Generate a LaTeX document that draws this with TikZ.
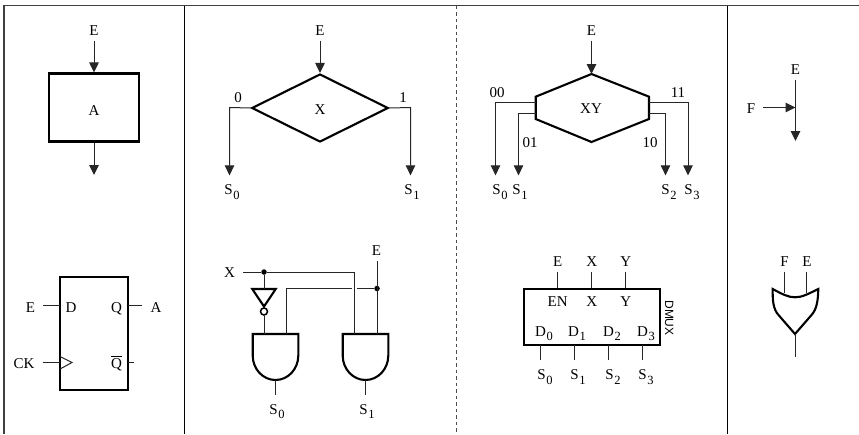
\documentclass[tikz,border=0pt]{standalone}
\usepackage{fontspec}
\setmainfont{Liberation Serif}
\newfontfamily\dmuxfont{Liberation Sans}
\usetikzlibrary{arrows.meta,calc,shapes.geometric}
\newcommand{\lsub}[1]{\kern.5pt\raisebox{-4.5pt}{\fontsize{12.5}{12.5}\selectfont #1}}
\tikzset{>={Triangle[length=10pt,width=9.5pt]},
  every node/.style={font=\fontsize{15}{15}\selectfont},
  frameline/.style={draw=black!75,line width=1.2pt},
  wire/.style={draw=black!85,line width=1pt},
  flow/.style={->,draw=black!85,line width=1pt},
  heavy/.style={draw=black,line width=2.1pt,line join=miter},
  block/.style={heavy,rectangle,inner sep=0pt},
  lab/.style={anchor=base,inner xsep=8pt,inner ysep=5.5pt},
  outlab/.style={anchor=base,inner xsep=2pt,inner ysep=9pt},
  txt/.style={anchor=base,inner sep=0pt},
  marker/.style={circle,fill=black,inner sep=0pt,minimum size=5.5pt},
  bubble/.style={circle,draw=black,line width=1.5pt,inner sep=0pt,minimum size=7pt}}
\begin{document}
\begin{tikzpicture}[x=1pt,y=-1pt]
\useasboundingbox(0,0)rectangle(859,434);
\draw[frameline](859,5.5)--(4,5.5)--(4,434);
\draw[draw=black,line width=1pt](184.5,5.5)--(184.5,434);\draw[draw=black,line width=1pt](727.5,5.5)--(727.5,434);
\draw[draw=black!70,line width=1pt,dash pattern=on 3.5pt off 3pt](456.5,5.5)--(456.5,434);
% sequence
\node[block,minimum width=90pt,minimum height=68pt](boxA)at(94,107.5){};
\node[txt](txtA)at(94,115){A};
\node[lab](eA)at(94,35){E};
\coordinate(outA)at(94,175);
\draw[flow](eA.south)--(boxA.north);\draw[flow](boxA.south)--(outA);
% decision on one bit
\node[heavy,diamond,aspect=2,inner sep=0pt,minimum width=136.5pt,minimum height=68pt](diaX)at(320,108){};
\node[txt](txtX)at(320,114){X};
\node[lab](eX)at(320,35){E};
\draw[flow](eX.south)--(diaX.north);
\node[txt](lblZero)at(238,102){0};\node[txt](lblOne)at(403,102){1};
\node[outlab](xs0)at(232,194.5){S\lsub{0}};\node[outlab](xs1)at(412,194.5){S\lsub{1}};
\coordinate(xc0)at(229.5,107.5);\coordinate(xc1)at(410.5,107.5);
\draw[flow](diaX.west)--(xc0)--(xc0|-xs0.north);
\draw[flow](diaX.east)--(xc1)--(xc1|-xs1.north);
% decision on two bits
\coordinate(hexT)at(591.5,74);\coordinate(hexB)at(591.5,142);
\coordinate(hexLT)at(535.7,96.7);\coordinate(hexLB)at(535.7,119);
\coordinate(hexRT)at(649,96.7);\coordinate(hexRB)at(649,119);
\draw[heavy](hexT)--(hexRT)--(hexRB)--(hexB)--(hexLB)--(hexLT)--cycle;
\node[txt](txtXY)at(591,113){XY};
\node[lab](eXY)at(591.5,35){E};
\draw[flow](eXY.south)--(hexT);
\foreach \i/\x/\sx in {0/495.5/500,1/518.5/520,2/665.5/669,3/688/692}{
  \node[outlab](ys\i)at(\sx,194.5){S\lsub{\i}};
  \coordinate(yc\i)at(\x,0);}
\node[txt](lblA)at(497,97){00};\node[txt](lblB)at(530,147){01};
\node[txt](lblC)at(650,147){10};\node[txt](lblD)at(678,97){11};
\coordinate(yl0)at(535.7,102.5);\coordinate(yl1)at(535.7,113.5);
\coordinate(yr2)at(649,113.5);\coordinate(yr3)at(649,102.5);
\draw[flow](yl0)--(yl0-|yc0)--(yc0|-ys0.north);
\draw[flow](yl1)--(yl1-|yc1)--(yc1|-ys1.north);
\draw[flow](yr2)--(yr2-|yc2)--(yc2|-ys2.north);
\draw[flow](yr3)--(yr3-|yc3)--(yc3|-ys3.north);
% junction
\node[lab](eJ)at(795.5,74){E};
\node[lab](fJ)at(751,113){F};
\coordinate(jF)at(795.5,107.5);\coordinate(jOut)at(795.5,141);
\draw[flow](eJ.south)--(jOut);
\draw[flow](fJ.east|-jF)--(jF);
% flip-flop
\node[block,minimum width=68.3pt,minimum height=113pt](ffbox)at(94.2,333.8){};
\node[txt](ffD)at(71,312){D};\node[txt](ffQ)at(116.5,312){Q};
\node[txt](ffQn)at(116.5,368){$\overline{\mbox{Q}}$};
\node[lab](ffE)at(30.5,312){E};\node[lab](ffA)at(156,312){A};\node[lab](ffCK)at(24,368){CK};
\coordinate(ffDin)at(60,305.5);\coordinate(ffQo)at(128.3,305.5);
\coordinate(ffCi)at(60,362);\coordinate(ffNo)at(128.3,362);
\draw[wire](ffE.east|-ffDin)--(ffDin);
\draw[wire](ffQo)--(ffQo-|ffA.west);
\draw[wire](ffCK.east|-ffCi)--(ffCi);
\draw[wire](ffNo)--(134,362);
\draw[wire](60,356.5)--(72,362.5)--(60,369);
% gates for one bit
\foreach \g/\cx/\sx in {0/275.5/277,1/365.5/367}{
  \coordinate(and\g)at(\cx,334);\coordinate(ando\g)at(\cx,380);
  \draw[heavy](and\g)++(-22.8,0)--++(45.6,0)--++(0,21.5)arc[start angle=0,end angle=180,x radius=22.8,y radius=24.5]--cycle;
  \node[outlab](gs\g)at(\sx,414){S\lsub{\g}};
  \draw[wire](ando\g)--(ando\g|-gs\g.north);}
\node[lab](gX)at(229.5,277.5){X};
\node[lab](gE)at(376.5,255.5){E};
\node[marker](dotX)at(264,272){};
\node[marker](dotE)at(377,288.5){};
\coordinate(invA)at(252.3,289);\coordinate(invB)at(275.7,289);\coordinate(invC)at(264,306.5);
\draw[heavy](invA)--(invB)--(invC)--cycle;
\node[bubble](inv)at(264,311.5){};
\coordinate(turnX)at(354.5,272);\coordinate(turnE)at(286.5,288.5);
\draw[wire](gX.east|-dotX)--(dotX);\draw[wire](dotX)--(turnX)--(turnX|-and1);
\draw[wire](dotX)--(dotX|-invA);\draw[wire](inv.south)--(inv.south|-and0);
\draw[wire](dotE|-gE.south)--(dotE|-and1);
\draw[wire](turnE|-and0)--(turnE)--(352,288.5);\draw[wire](357,288.5)--(dotE);
% demultiplexer
\node[block,minimum width=136pt,minimum height=56.6pt](dmux)at(592,317){};
\node[anchor=center,rotate=-90,font=\dmuxfont\fontsize{12}{12}\selectfont](dmuxName)at(669.3,318){DMUX};
\foreach \p/\x/\lab/\inner in {0/557.7/E/EN,1/591.7/X/X,2/625.7/Y/Y}{
  \node[lab](mi\p)at(\x,266){\lab};
  \node[txt](mt\p)at(\x,306){\inner};
  \draw[wire](mi\p.south)--(mi\p.south|-dmux.north);}
\foreach \i/\x/\dx/\sx in {0/540.7/544/545,1/574.7/577/578,2/608.7/612/613,3/642.3/646/646}{
  \node[txt](md\i)at(\dx,336){D\lsub{\i}};
  \node[outlab](ms\i)at(\sx,379.5){S\lsub{\i}};
  \coordinate(mo\i)at(\x,345.3);
  \draw[wire](mo\i)--(mo\i|-ms\i.north);}
% or gate
\node[lab](orF)at(784.5,266){F};\node[lab](orE)at(807,266){E};
\coordinate(orL)at(772.7,289);\coordinate(orR)at(818.3,289);\coordinate(orTip)at(795,334);
\draw[heavy](orL)..controls(782,294)and(788,297.3)..(795,297.3)..controls(802,297.3)and(808,294)..(orR)
  ..controls(818,300)and(817,309)..(811.5,315)--(orTip)--(778.5,315)..controls(773,309)and(772.5,300)..(orL)--cycle;
\coordinate(orOut)at(795.5,356.5);\coordinate(orA)at(784,292.5);\coordinate(orB)at(806.3,292.5);
\draw[wire](orF.south-|orA)--(orA);\draw[wire](orE.south-|orB)--(orB);\draw[wire](orTip-|orOut)--(orOut);
\end{tikzpicture}
\end{document}
